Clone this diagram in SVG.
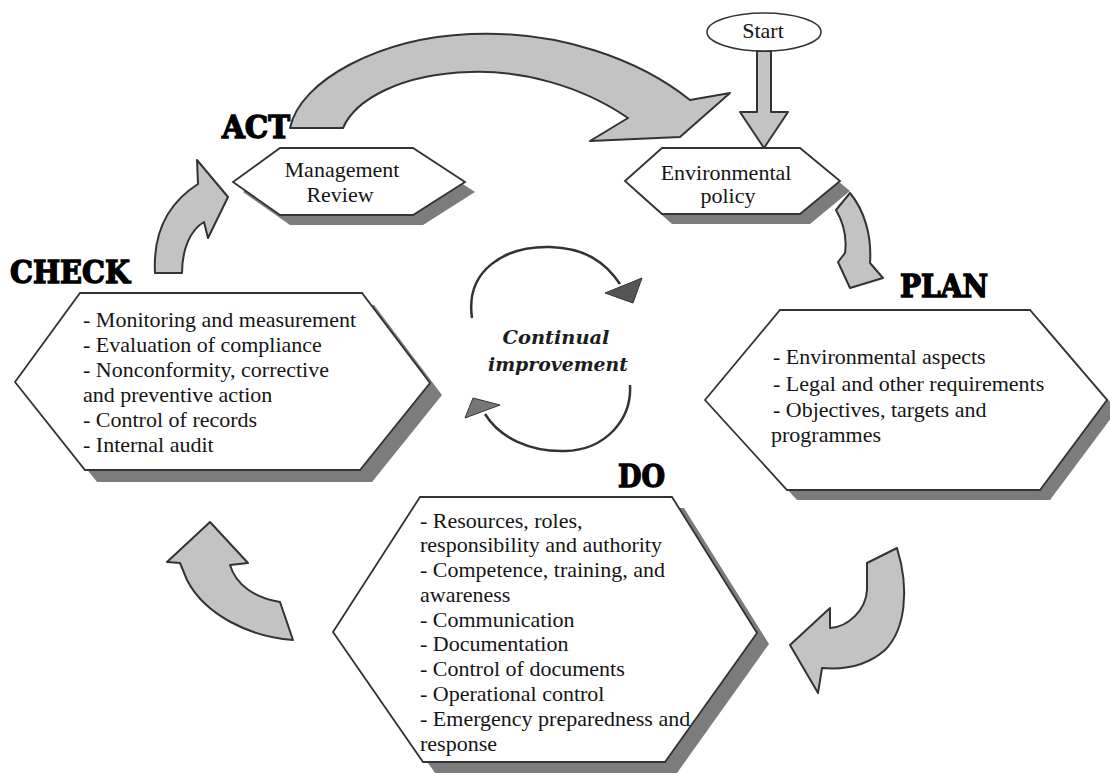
<svg xmlns="http://www.w3.org/2000/svg" width="1110" height="773" viewBox="0 0 1110 773">
<style>
.hex{fill:#fff;stroke:#333;stroke-width:1.8}
.sh{fill:#7c7c7c}
.arr{fill:#c3c3c3;stroke:#333;stroke-width:2;stroke-linejoin:round}
.t{font-family:"Liberation Serif","Times New Roman",serif;font-size:22px;fill:#151515}
.ttl{font-family:"DejaVu Serif",serif;font-weight:bold;font-size:31px;fill:#000;stroke:#000;stroke-width:1.4}
.ci{font-family:"DejaVu Serif",serif;font-weight:bold;font-style:italic;font-size:19px;fill:#1c1c1c}
.circ{fill:none;stroke:#333;stroke-width:2.5}
</style>
<rect width="1110" height="773" fill="#fff"/>
<g id="connectors">
<path class="arr" d="M 290,128 C 300,80 380,38 470,34 C 560,30 640,60 690,100 L 730,93 L 680,137 L 590,141 L 628,118 C 580,85 520,70 470,72 C 400,74 355,100 343,128 Z"/>
<path class="arr" d="M 757,51 L 771,51 L 771,112 L 788,112 L 764,148 L 740,112 L 757,112 Z"/>
<path class="arr" d="M 836,210 L 850,193 C 864,210 872,235 870,263 L 883,278 L 850,288 L 838,262 L 845,253 C 847,238 843,222 836,210 Z"/>
<path class="arr" d="M 867,563 L 897,548 C 910,590 905,630 885,650 C 868,665 845,670 822,668 L 818,693 L 790,645 L 830,608 L 830,628 C 848,627 866,610 867,590 Z"/>
<path class="arr" d="M 210,522 L 248,563 L 230,565 C 236,585 255,598 280,602 L 293,640 C 250,637 205,615 187,580 L 180,563 L 167,562 Z"/>
<path class="arr" d="M 155,273 C 153,235 165,205 198,184 L 197,160 L 228,197 L 208,238 L 204,222 C 190,230 182,250 182,273 Z"/>
<path class="circ" d="M 472,318 C 465,270 505,246 550,247 C 585,248 605,262 620,284"/>
<polygon points="642,278 605,293 633,303" fill="#555" stroke="#333" stroke-width="1"/>
<path class="circ" d="M 630,385 C 632,420 605,450 565,451 C 530,452 500,438 485,414"/>
<polygon points="465,418 473,398 500,405" fill="#777" stroke="#333" stroke-width="1"/>
</g>
<g id="start">
<ellipse cx="764" cy="32" rx="57" ry="19" fill="#fff" stroke="#333" stroke-width="1.6"/>
<text class="t" x="763" y="38" text-anchor="middle" font-size="18">Start</text>
</g>
<g id="mgmt">
<polygon class="sh" points="243,192 290,158 423,158 475,192 423,225 290,225"/>
<polygon class="hex" points="233,182 280,148 413,148 465,182 413,215 280,215"/>
<text class="t" x="342" y="177" text-anchor="middle">Management</text>
<text class="t" x="340" y="202" text-anchor="middle">Review</text>
</g>
<g id="envpolicy">
<polygon class="sh" points="635,191 672,158 810,158 850,191 810,224 672,224"/>
<polygon class="hex" points="625,181 662,148 800,148 840,181 800,214 662,214"/>
<text class="t" x="726" y="180" text-anchor="middle">Environmental</text>
<text class="t" x="728" y="203" text-anchor="middle">policy</text>
</g>
<g id="check">
<polygon class="sh" points="27,394 92,305 374,305 442,395 372,482 97,482"/>
<polygon class="hex" points="15,382 80,293 362,293 430,383 360,470 85,470"/>
<text class="t" x="83" y="327">- Monitoring and measurement</text>
<text class="t" x="83" y="352">- Evaluation of compliance</text>
<text class="t" x="83" y="377">- Nonconformity, corrective</text>
<text class="t" x="83" y="402">and preventive action</text>
<text class="t" x="83" y="427">- Control of records</text>
<text class="t" x="83" y="452">- Internal audit</text>
</g>
<g id="plan">
<polygon class="sh" points="715,410 790,320 1040,320 1117,410 1050,500 797,500"/>
<polygon class="hex" points="705,400 780,310 1030,310 1107,400 1040,490 787,490"/>
<text class="t" x="773" y="364">- Environmental aspects</text>
<text class="t" x="773" y="391">- Legal and other requirements</text>
<text class="t" x="773" y="417">- Objectives, targets and</text>
<text class="t" x="771" y="442">programmes</text>
</g>
<g id="do">
<polygon class="sh" points="345,643 432,508 684,508 769,644 677,773 435,773"/>
<polygon class="hex" points="333,632 420,497 672,497 757,633 665,762 423,762"/>
<text class="t" x="420" y="528">- Resources, roles,</text>
<text class="t" x="420" y="552">responsibility and authority</text>
<text class="t" x="420" y="577">- Competence, training, and</text>
<text class="t" x="420" y="602">awareness</text>
<text class="t" x="420" y="627">- Communication</text>
<text class="t" x="420" y="651">- Documentation</text>
<text class="t" x="420" y="676">- Control of documents</text>
<text class="t" x="420" y="701">- Operational control</text>
<text class="t" x="420" y="726">- Emergency preparedness and</text>
<text class="t" x="420" y="751">response</text>
</g>
<g id="labels">
<text class="ttl" x="222" y="138" textLength="68" lengthAdjust="spacingAndGlyphs">ACT</text>
<text class="ttl" x="10" y="283" textLength="120" lengthAdjust="spacingAndGlyphs">CHECK</text>
<text class="ttl" x="900" y="297" textLength="88" lengthAdjust="spacingAndGlyphs">PLAN</text>
<text class="ttl" x="618" y="487" textLength="47" lengthAdjust="spacingAndGlyphs">DO</text>
<text class="ci" x="556" y="344" text-anchor="middle" textLength="107" lengthAdjust="spacingAndGlyphs">Continual</text>
<text class="ci" x="558" y="371" text-anchor="middle" textLength="140" lengthAdjust="spacingAndGlyphs">improvement</text>
</g>
</svg>
